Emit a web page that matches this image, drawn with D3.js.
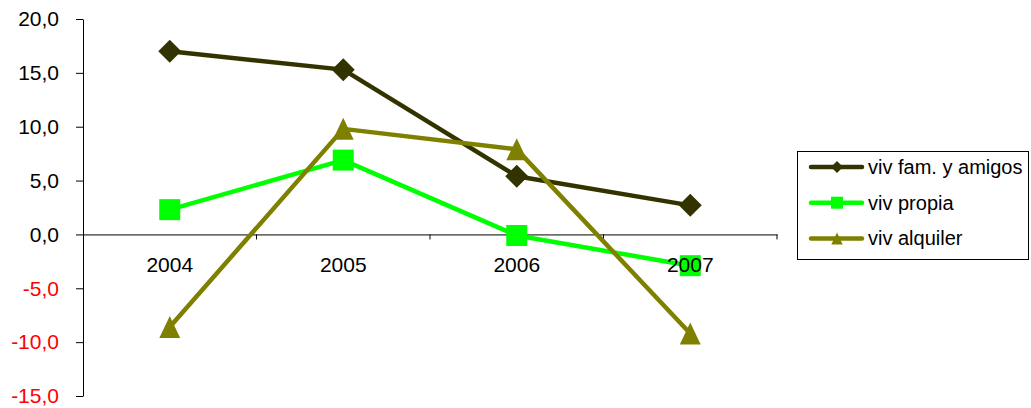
<!DOCTYPE html>
<html>
<head>
<meta charset="utf-8">
<script src="https://cdn.jsdelivr.net/npm/d3@7"></script>
<style>
  body { margin: 0; background: #fff; }
  text { font-family: "Liberation Sans", Arial, sans-serif; }
</style>
</head>
<body>
<div id="chart"></div>
<script>

// data
var years = ['2004', '2005', '2006', '2007'];
var famAmigos = [17.0, 15.3, 5.4, 2.7];
var propia = [2.3, 6.9, -0.1, -2.9];
var alquiler = [-8.6, 9.8, 7.9, -9.2];
var yTicks = [-15, -10, -5, 0, 5, 10, 15, 20];

var series = [
  {name: 'viv fam. y amigos', values: famAmigos, color: '#333300', marker: 'diamond'},
  {name: 'viv propia', values: propia, color: '#00ff00', marker: 'square'},
  {name: 'viv alquiler', values: alquiler, color: '#808000', marker: 'triangle'}
];

var W = 1031, H = 408;
var plotLeft = 83, plotRight = 777, plotTop = 19, plotBottom = 396;

var svg = d3.select('#chart').append('svg')
  .attr('width', W)
  .attr('height', H);

var x = d3.scaleBand().domain(years).range([plotLeft, plotRight]).padding(0);
var y = d3.scaleLinear().domain([-15, 20]).range([plotBottom, plotTop]);

var fmt = function(d){ return d3.format('.1f')(d).replace('.', ',').replace('−', '-'); };

// marker shapes, centred at 0,0
function markerPath(type, s){
  var h = s / 2;
  if(type == 'diamond'){
    return 'M0,' + (-h) + 'L' + h + ',0L0,' + h + 'L' + (-h) + ',0Z';
  }else if(type == 'square'){
    return 'M' + (-h) + ',' + (-h) + 'H' + h + 'V' + h + 'H' + (-h) + 'Z';
  }else{
    return 'M0,' + (-h) + 'L' + (h * 0.95) + ',' + h + 'L' + (-h * 0.95) + ',' + h + 'Z';
  }
}

// y axis
var yAxis = svg.append('g')
  .attr('transform', 'translate(' + plotLeft + ',0)')
  .call(d3.axisLeft(y).tickValues(yTicks).tickFormat(fmt).tickSize(7).tickPadding(17).tickSizeOuter(0));
yAxis.select('.domain').attr('stroke', '#000');
yAxis.selectAll('.tick line').attr('stroke', '#000');
yAxis.selectAll('text')
  .style('font-size', '21px')
  .attr('fill', function(d){ return d < 0 ? '#ff0000' : '#000'; });

// x axis line on zero (under the series)
var xLine = svg.append('g')
  .attr('transform', 'translate(0,' + y(0) + ')')
  .call(d3.axisBottom(x).tickSize(0).tickFormat('').tickSizeOuter(0));
xLine.select('.domain').attr('stroke', '#000');

// category boundary ticks
var bounds = years.slice(1).map(function(d){ return x(d); }).concat([x.range()[1]]);
svg.append('g').selectAll('line')
  .data(bounds)
  .enter()
  .append('line')
  .attr('x1', function(d){ return d; })
  .attr('x2', function(d){ return d; })
  .attr('y1', y(0))
  .attr('y2', y(0) + 5)
  .attr('stroke', '#000');

var cx = function(d, i){ return x(years[i]) + x.bandwidth() / 2; };

var line = d3.line()
  .x(function(d, i){ return cx(d, i); })
  .y(function(d){ return y(d); });

var markerSize = {diamond: 23, square: 21, triangle: 22};

series.forEach(function(s){
  svg.append('path')
    .datum(s.values)
    .attr('d', line)
    .attr('fill', 'none')
    .attr('stroke', s.color)
    .attr('stroke-width', 4.5)
    .attr('stroke-linejoin', 'round');

  svg.append('g').selectAll('path')
    .data(s.values)
    .enter()
    .append('path')
    .attr('d', markerPath(s.marker, markerSize[s.marker]))
    .attr('transform', function(d, i){ return 'translate(' + cx(d, i) + ',' + y(d) + ')'; })
    .attr('fill', s.color);
});

// category labels drawn on top of the lines, like the original
var xAxis = svg.append('g')
  .attr('transform', 'translate(0,' + y(0) + ')')
  .call(d3.axisBottom(x).tickSize(0).tickPadding(23));
xAxis.select('.domain').remove();
xAxis.selectAll('text').style('font-size', '21px').attr('fill', '#000');

// legend
var legend = svg.append('g').attr('transform', 'translate(797,151)');
legend.append('rect')
  .attr('x', 0.5).attr('y', 0.5)
  .attr('width', 231).attr('height', 108)
  .attr('fill', '#fff')
  .attr('stroke', '#000')
  .attr('stroke-width', 1);

var item = legend.selectAll('.item')
  .data(series)
  .enter()
  .append('g')
  .attr('class', 'item')
  .attr('transform', function(d, i){ return 'translate(0,' + (16 + i * 35.7) + ')'; });

item.append('line')
  .attr('x1', 14).attr('x2', 65)
  .attr('stroke', function(d){ return d.color; })
  .attr('stroke-width', 4.5)
  .attr('stroke-linecap', 'round');

item.append('path')
  .attr('d', function(d){ return markerPath(d.marker, 12); })
  .attr('transform', 'translate(40,0)')
  .attr('fill', function(d){ return d.color; });

item.append('text')
  .attr('x', 71)
  .attr('dy', '0.35em')
  .style('font-size', '20px')
  .attr('fill', '#000')
  .text(function(d){ return d.name; });

</script>
</body>
</html>
